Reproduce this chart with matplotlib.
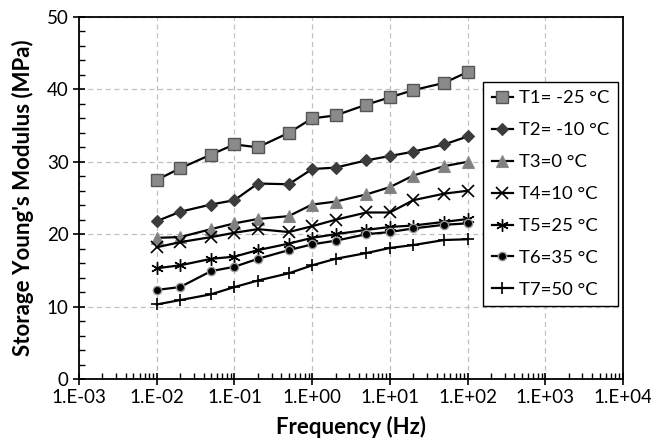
import numpy as np
import matplotlib.pyplot as plt
from matplotlib.ticker import FixedLocator, LogLocator, MultipleLocator, NullFormatter

plt.rcParams['font.family'] = ['Lato', 'DejaVu Sans']

freq = [0.01, 0.02, 0.05, 0.1, 0.2, 0.5, 1, 2, 5, 10, 20, 50, 100]

t1 = [27.5, 29.1, 31.0, 32.4, 32.0, 34.0, 36.0, 36.4, 37.9, 38.9, 39.9, 40.9, 42.4]
t2 = [21.8, 23.1, 24.1, 24.7, 27.0, 26.9, 29.0, 29.2, 30.2, 30.8, 31.4, 32.4, 33.5]
t3 = [19.5, 19.6, 20.7, 21.5, 22.1, 22.5, 24.1, 24.5, 25.5, 26.5, 28.1, 29.4, 30.0]
t4 = [18.2, 18.9, 19.6, 20.2, 20.7, 20.3, 21.1, 22.0, 23.0, 23.0, 24.7, 25.6, 26.0]
t5 = [15.3, 15.7, 16.6, 16.9, 17.8, 18.7, 19.5, 20.0, 20.6, 21.0, 21.2, 21.7, 22.1]
t6 = [12.3, 12.7, 14.9, 15.5, 16.6, 17.8, 18.6, 19.1, 20.0, 20.3, 20.8, 21.3, 21.5]
t7 = [10.3, 10.9, 11.7, 12.7, 13.6, 14.6, 15.7, 16.6, 17.4, 18.1, 18.5, 19.2, 19.3]

labels = ["T1= -25 °C", "T2= -10 °C", "T3=0 °C", "T4=10 °C",
          "T5=25 °C", "T6=35 °C", "T7=50 °C"]
x_ticks = [1e-3, 1e-2, 1e-1, 1e0, 1e1, 1e2, 1e3, 1e4]
x_ticklabels = ["1.E-03", "1.E-02", "1.E-01", "1.E+00",
                "1.E+01", "1.E+02", "1.E+03", "1.E+04"]

fig = plt.figure(figsize=(6.51, 4.44), dpi=100)
ax = fig.add_axes([0.1214, 0.1464, 0.8356, 0.8153])

styles = [
    dict(marker='s', ms=9, mfc='#8a8a8a', mec='#555555', mew=1.0),
    dict(marker='D', ms=6.5, mfc='#3c3c3c', mec='#3c3c3c', mew=0.8),
    dict(marker='^', ms=8, mfc='#808080', mec='#8a8a8a', mew=0.8),
    dict(marker='x', ms=9, mfc='black', mec='black', mew=1.2),
    dict(marker=(6, 2, 0), ms=9, mfc='black', mec='black', mew=1.0),
    dict(marker='o', ms=6, mfc='black', mec='#999999', mew=1.0),
    dict(marker='+', ms=9, mfc='black', mec='black', mew=1.2),
]

for y, lab, st in zip([t1, t2, t3, t4, t5, t6, t7], labels, styles):
    ax.plot(freq, y, color='black', lw=1.6, label=lab, **st)

ax.set_xscale('log')
ax.set_xlim(1e-3, 1e4)
ax.set_ylim(0, 50)
ax.xaxis.set_major_locator(FixedLocator(x_ticks))
ax.set_xticklabels(x_ticklabels)
ax.xaxis.set_minor_locator(LogLocator(base=10, subs=np.arange(2, 10), numticks=20))
ax.xaxis.set_minor_formatter(NullFormatter())
ax.yaxis.set_major_locator(MultipleLocator(10))
ax.yaxis.set_minor_locator(MultipleLocator(2))

ax.tick_params(which='major', direction='inout', length=8, width=1.2, labelsize=13.5)
ax.tick_params(which='minor', direction='in', length=4, width=1.0)
ax.grid(True, which='major', linestyle=(0, (4, 3)), color='#c0c0c0', lw=0.9)
for s in ax.spines.values():
    s.set_linewidth(1.3)

ax.set_xlabel("Frequency (Hz)", fontsize=16, fontweight='bold', labelpad=7)
ax.set_ylabel("Storage Young's Modulus (MPa)", fontsize=16, fontweight='bold', labelpad=9)

leg = ax.legend(loc='upper right', bbox_to_anchor=(0.991, 0.82), borderaxespad=0,
                fontsize=13.3, frameon=True, fancybox=False, edgecolor='black',
                handlelength=1.15, handletextpad=0.35, labelspacing=0.86,
                borderpad=0.45)
leg.get_frame().set_linewidth(1.0)
leg.get_frame().set_alpha(1)

fig.savefig("out.png", dpi=100)
